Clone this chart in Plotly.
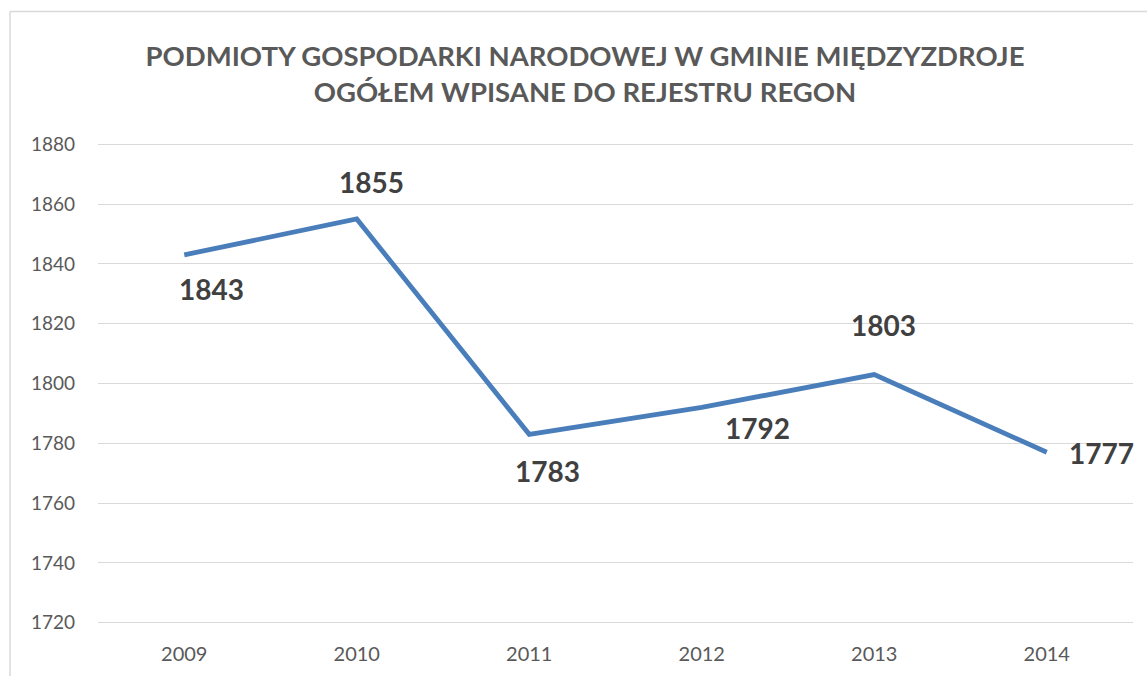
import plotly.graph_objects as go

years = ["2009", "2010", "2011", "2012", "2013", "2014"]
podmioty = [1843, 1855, 1783, 1792, 1803, 1777]
y_ticks = [1720, 1740, 1760, 1780, 1800, 1820, 1840, 1860, 1880]

# label offsets in pixels (Excel placed them by hand)
label_dx = [27, 15, 18, 56, 9, 55]
label_dy = [-34, 37, -37, -21, 50, -1]

GRAY = "#595959"
GRID = "#d9d9d9"
FONT = "Lato"

fig = go.Figure()
fig.add_trace(go.Scatter(
    x = years, y = podmioty,
    mode = "lines",
    line = dict(color = "#4a7ebb", width = 4.8),
    showlegend = False,
    hoverinfo = "x+y",
))
for i, (year, value) in enumerate(zip(years, podmioty)):
    fig.add_annotation(
        xref = "x", yref = "y",
        x = i, y = value, text = "<b>" + str(value) + "</b>", showarrow = False,
        xanchor = "center", yanchor = "middle",
        xshift = label_dx[i], yshift = label_dy[i],
        font = dict(family = FONT, size = 28, color = "#404040"),
    )

# chart frame (left and top edges visible)
fig.add_shape(type = "line", xref = "paper", yref = "paper",
    x0 = -0.085, x1 = -0.085, y0 = -0.2, y1 = 1.2735,
    line = dict(color = GRID, width = 1.5))
fig.add_shape(type = "line", xref = "paper", yref = "paper",
    x0 = -0.085, x1 = 1.05, y0 = 1.2735, y1 = 1.2735,
    line = dict(color = GRID, width = 1.5))

fig.update_layout(
    width = 1147, height = 676,
    margin = dict(l = 98, r = 14, t = 143, b = 52),
    plot_bgcolor = "white", paper_bgcolor = "white",
    font = dict(family = FONT, color = GRAY),
    title = dict(
        text = "PODMIOTY GOSPODARKI NARODOWEJ W GMINIE MIĘDZYZDROJE<br>OGÓŁEM WPISANE DO REJESTRU REGON",
        x = 585 / 1147, xanchor = "center", xref = "container",
        y = 1 - 66 / 676, yanchor = "middle", yref = "container",
        font = dict(family = FONT, size = 27.5, color = GRAY, weight = "bold"),
    ),
)
fig.update_xaxes(
    type = "category", range = [-0.5, 5.5],
    showgrid = False, showline = False, zeroline = False, ticks = "",
    tickfont = dict(family = FONT, size = 20, color = GRAY),
    ticklabelstandoff = 16,
)
fig.update_yaxes(
    range = [1719.6, 1880.4], tickvals = y_ticks,
    showgrid = True, gridcolor = GRID, gridwidth = 1.3,
    showline = False, zeroline = False, ticks = "",
    tickfont = dict(family = FONT, size = 19, color = GRAY),
    ticklabelstandoff = 22,
)

fig.write_html("out.html", config = {"displayModeBar": False},
    post_script = "document.body.style.margin = '0';")
